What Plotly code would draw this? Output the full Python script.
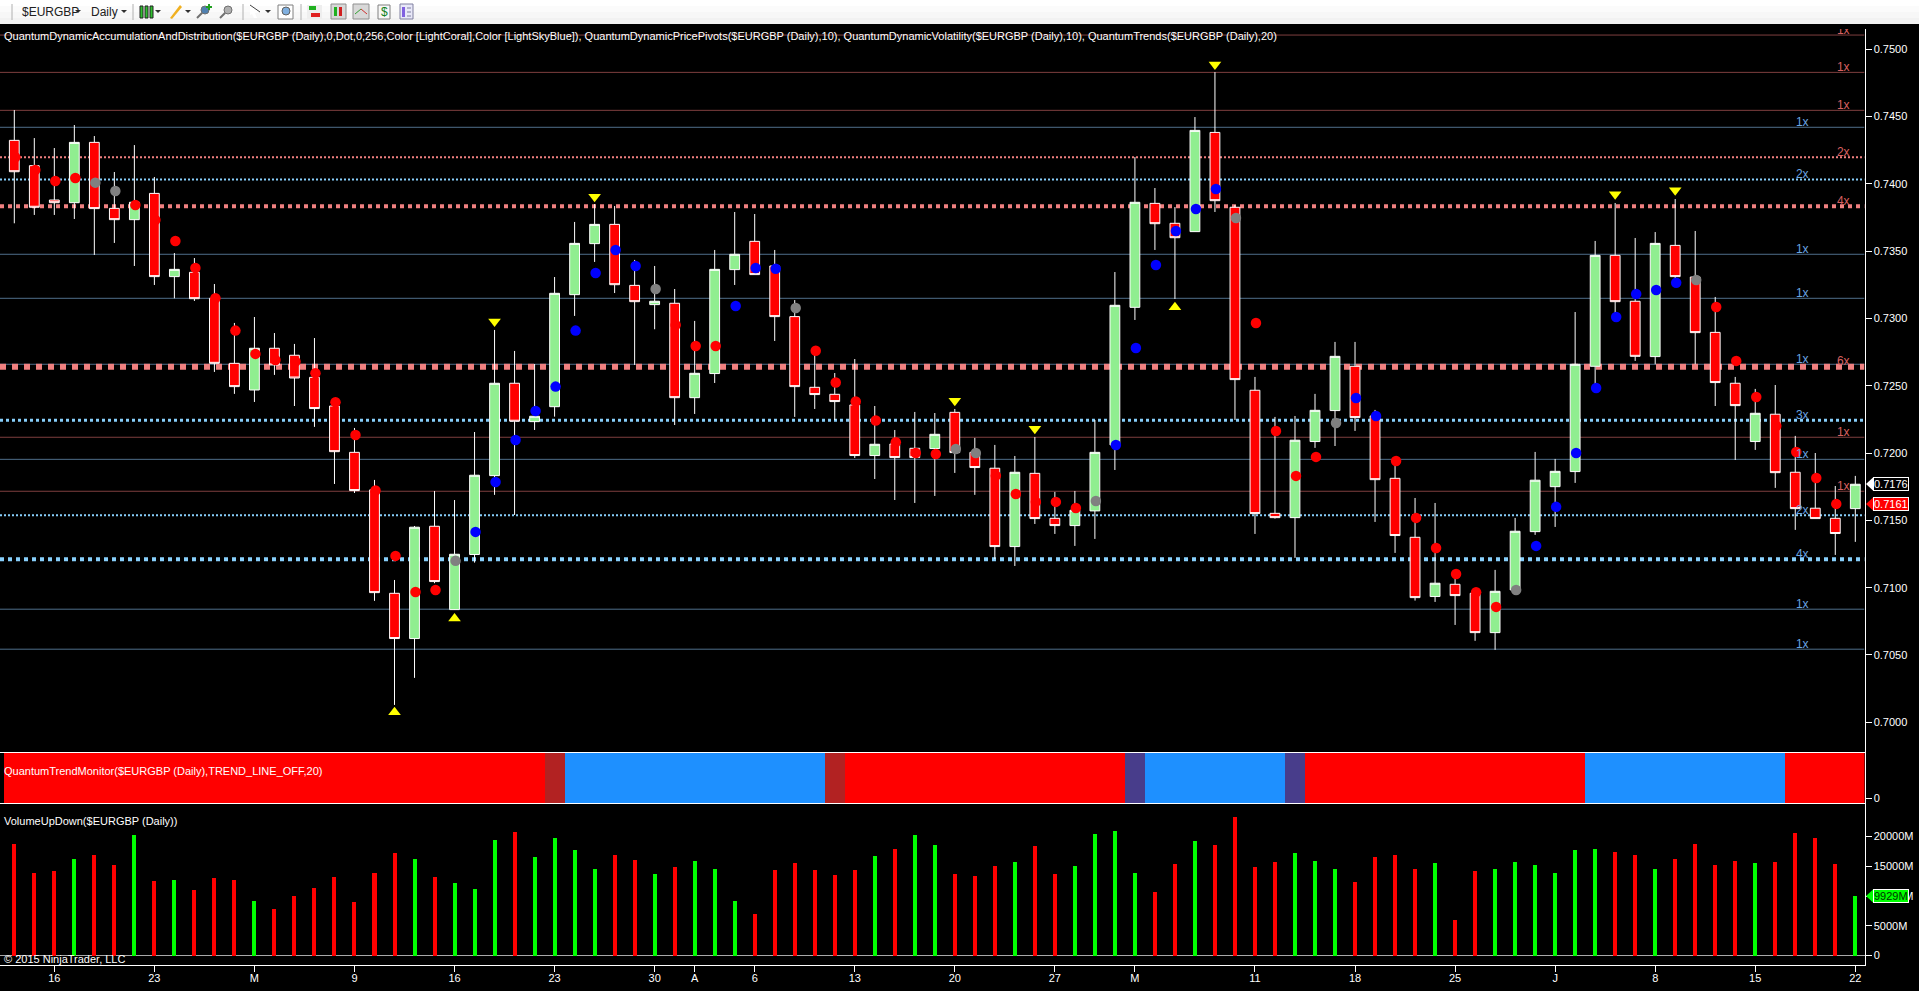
import plotly.graph_objects as go

W, H = 1919, 991

# ---------- data ----------
open_ = [.74322,.74134,.73879,.73859,.74307,.73817,.73733,.73928,.7331,.73342,.73149,.72666,.72468,.72778,.72726,.72562,
.72349,.72005,.71726,.70958,.70622,.71456,.70837,.71246,.71832,.72518,.72233,.72344,.73176,.73555,.73698,.73245,
.73102,.73112,.72411,.7259,.73362,.73572,.73389,.73013,.72488,.72436,.72357,.71981,.72067,.72035,.72033,.72302,
.72005,.71887,.71305,.71849,.71515,.71461,.7157,.7206,.73082,.73854,.73706,.73644,.74381,.73825,.72466,.71552,
.7152,.72085,.72315,.72644,.72275,.71812,.71374,.70934,.71025,.70958,.70666,.70983,.71416,.7175,.71862,.72644,
.73468,.73127,.72716,.73542,.73307,.72896,.72518,.72085,.72288,.71857,.7159,.71515,.71587]
close = [.74089,.73825,.73859,.74307,.73815,.73733,.73862,.7331,.73364,.73146,.72666,.72493,.72778,.72654,.72557,.7233,
.7201,.71721,.70963,.70622,.71449,.71045,.71248,.71835,.72518,.72236,.72273,.73186,.73557,.73698,.7325,.73124,
.73127,.72411,.72592,.73364,.73476,.73325,.73013,.72493,.72434,.72382,.71981,.72065,.71966,.71966,.72139,.72003,
.71892,.71305,.71857,.71513,.71461,.71575,.72005,.73097,.73862,.73703,.73599,.74396,.73874,.72545,.7155,.7152,
.72095,.72317,.72718,.72263,.71802,.71387,.70926,.71033,.70941,.70666,.70973,.71419,.71798,.71864,.72659,.73468,
.73124,.72718,.73557,.7331,.72894,.72523,.72352,.72295,.71854,.71587,.71513,.71402,.71768]
high = [.74547,.74339,.74265,.74436,.74354,.74087,.74287,.7405,.73485,.73448,.73255,.72966,.7301,.72891,.7281,.72854,
.72406,.72186,.718,.71057,.71458,.71718,.71651,.72156,.72914,.72758,.72661,.73307,.73716,.73849,.73834,.73434,
.73389,.73218,.72981,.73508,.7379,.73775,.73508,.73136,.7279,.72594,.72698,.72349,.72171,.72305,.72297,.72327,
.72112,.7206,.71978,.72119,.71711,.71718,.72245,.73344,.74198,.73968,.73827,.74495,.74829,.73842,.72565,.72268,
.72275,.72439,.72825,.72825,.7232,.71941,.71666,.71629,.71102,.70983,.71132,.71518,.72008,.71956,.73047,.73575,
.73857,.73597,.73641,.73886,.73649,.73159,.72565,.72476,.72505,.72127,.72,.71755,.7183]
low = [.73706,.73768,.73768,.73738,.73471,.7356,.73389,.73248,.73149,.73129,.72602,.72439,.72379,.7258,.72349,.72194,
.7177,.71703,.70902,.70129,.7033,.71033,.70835,.71186,.71689,.7154,.72171,.7227,.73018,.73419,.73188,.72654,
.72919,.72208,.7229,.7252,.73248,.73325,.72832,.72268,.72327,.72245,.71963,.71807,.71651,.71629,.71681,.71852,
.71689,.71213,.71161,.71473,.71399,.7131,.71362,.71874,.72988,.73508,.73144,.73644,.7379,.72245,.71399,.71513,
.71221,.72038,.72052,.72164,.71488,.71258,.70904,.70894,.70723,.70605,.70538,.70958,.71392,.71451,.71778,.72483,
.73013,.72684,.72659,.73285,.72659,.72349,.71948,.72023,.71741,.71429,.71513,.71243,.7134]

dot_values = [.74196,.74102,.7402,.74042,.74008,.73946,.73842,.7373,.73575,.73374,.73149,.72909,.72736,.72691,.72679,.72592,
.72377,.72134,.71721,.71236,.70968,.70983,.71199,.71414,.71785,.72097,.72312,.72493,.72909,.73337,.73508,.73389,
.73218,.72951,.72795,.72795,.73092,.73374,.73369,.73077,.7276,.72523,.72382,.72241,.7208,.72,.71993,.7203,
.72,.71832,.71696,.71637,.71637,.71592,.71644,.7206,.7278,.73396,.73649,.73812,.73961,.73745,.72966,.72164,
.7183,.71971,.72223,.72409,.72275,.71941,.71518,.71295,.71102,.70966,.70857,.70983,.7131,.716,.72,.72483,
.7301,.73181,.73211,.73265,.73285,.73084,.72684,.72416,.72201,.72008,.71815,.71622]
dot_kinds = list("rrrr gg rrrrrrrrrrrrrrrr g bbbbbbbbb g rrr bbb g rrrrrrr gg rrrrr g bbbbbb g rrrr g bb rrrrrr g bbbbbbbb g rrrrrrr".replace(" ", ""))

peak_idx = [24, 29, 47, 51, 60, 80, 83]
peak_val = [.72976, .73904, .72389, .72181, .74886, .73921, .73951]
trough_idx = [19, 22, 58]
trough_val = [.70075, .7077, .73082]

level_val = [.75104,.74827,.74545,.74419,.74196,.74032,.73832,.73476,.73149,.72659,.72641,.72243,.72117,.71953,.71716,.71538,.71211,.7084,.70543]
level_mult = [1,1,1,1,2,2,4,1,1,1,6,3,1,1,1,2,4,1,1]
level_side = list("rrrbrbrbbbrbrbrbbbb")

trend_colors = (["#FF0000"]*27 + ["#B22222"] + ["#1E90FF"]*13 + ["#B22222"] + ["#FF0000"]*14 + ["#483D8B"]
                + ["#1E90FF"]*7 + ["#483D8B"] + ["#FF0000"]*14 + ["#1E90FF"]*10 + ["#FF0000"]*4)

volume = [18700,13830,14170,16180,16860,15180,20200,12490,12660,10980,12990,12660,9130,7780,9970,11310,
13160,8960,13830,17190,16180,13160,12150,11140,19380,20720,16520,19710,17700,14500,16860,16020,
13660,14840,15850,14500,9130,6940,14340,15510,14340,13500,14340,16690,17860,20200,18540,13660,
13330,15010,15680,18370,13660,15010,20380,20890,13830,10640,15340,19210,18540,23240,14840,15680,
17190,15850,14500,12320,16520,16860,14500,15510,5940,14170,14500,15680,15180,13830,17700,17860,
17360,16860,14500,16180,18700,15180,15850,15510,15680,20550,19710,15340,9929]
vol_dirs = list("rrrgrrgrgrrrgrrrrrrrgrgggrggggrr"
                "grgggrrrrrrgrggrrrgrrggggrrgrrrr"
                "gggrrrrgrrggggggrrgrrrrgrrrrg")

x_tick_idx = [2,7,12,17,22,27,32,34,37,42,47,52,56,62,67,72,77,82,87,92]
x_tick_txt = ["16","23","M","9","16","23","30","A","6","13","20","27","M","11","18","25","J","8","15","22"]
vol_ticks = [0,5000,10000,15000,20000]
vol_tick_txt = ["0","5000M","10000M","15000M","20000M"]
price_ticks = [.70,.705,.71,.715,.72,.725,.73,.735,.74,.745,.75]

last_close = "0.7176"
last_dot = "0.7161"
last_vol = "9929M"

HEADER = ("QuantumDynamicAccumulationAndDistribution($EURGBP (Daily),0,Dot,0,256,Color [LightCoral],Color [LightSkyBlue]), "
          "QuantumDynamicPricePivots($EURGBP (Daily),10), QuantumDynamicVolatility($EURGBP (Daily),10), "
          "QuantumTrends($EURGBP (Daily),20)")

# ---------- helpers ----------
FONT = "Liberation Sans"
COL = {"r": "#FF0000", "g": "#808080", "b": "#0000FF"}
idx = list(range(len(open_)))
AX_X = 1864.5
px = lambda X: X / W
py = lambda Y: 1 - Y / H
XR = [-0.7146, 92.46]

shapes, annos = [], []

def rect(x0, y0, x1, y1, fill, line=None, lw=0):
    shapes.append(dict(type="rect", xref="paper", yref="paper", x0=px(x0), x1=px(x1), y0=py(y0), y1=py(y1),
                       fillcolor=fill, line=dict(color=line or fill, width=lw)))

def seg(x0, y0, x1, y1, col, lw=1):
    shapes.append(dict(type="line", xref="paper", yref="paper", x0=px(x0), x1=px(x1), y0=py(y0), y1=py(y1),
                       line=dict(color=col, width=lw)))

def poly(pts, fill):
    d = "M" + " L".join(f"{px(a):.5f},{py(b):.5f}" for a, b in pts) + " Z"
    shapes.append(dict(type="path", xref="paper", yref="paper", path=d, fillcolor=fill, line=dict(width=0)))

def label(X, Y, s, size=11, col="#FFFFFF", anchor="left", **kw):
    annos.append(dict(xref="paper", yref="paper", x=px(X), y=py(Y), text=s, showarrow=False, xanchor=anchor,
                      yanchor="middle", font=dict(family=FONT, size=size, color=col), **kw))

# pivot / volatility levels
for v, m, s in zip(level_val, level_mult, level_side):
    if m == 1:
        ln = dict(color="#7F3F3F" if s == "r" else "#4F6E8A", width=1)
    else:
        ln = dict(color="#F08080" if s == "r" else "#87CEFA", width=m, dash=f"{m}px,{m}px")
    shapes.append(dict(type="line", xref="x", yref="y", x0=XR[0], x1=XR[1], y0=v, y1=v, line=ln, layer="below"))

# toolbar
for k, c in enumerate(["#FFFFFF", "#FBFBFB", "#F7F7F7", "#F2F2F2"]):
    rect(0, k * 6, W, (k + 1) * 6, c)
for X in [12, 133, 243, 301]:
    seg(X, 4, X, 20, "#B0B0B0")
for X in [78, 124, 158, 188, 268]:
    poly([(X - 3, 10), (X + 3, 10), (X, 13)], "#303030")
# candle icon
for X, c in [(140, "#30C030"), (145, "#30C030"), (150, "#30C030")]:
    rect(X, 6, X + 3, 18, c, "#202020", 1)
poly([(170, 18), (180, 5), (182, 7), (172, 19)], "#F0B020")
for X, c in [(197, "#5080B0"), (220, "#B0B0B0")]:
    shapes.append(dict(type="circle", xref="paper", yref="paper", x0=px(X + 4), x1=px(X + 12), y0=py(14), y1=py(6),
                       fillcolor=c, line=dict(color="#707070", width=1)))
    seg(X, 18, X + 5, 13, "#707070", 2)
rect(208, 4, 210, 10, "#20A020")
rect(206, 6, 212, 8, "#20A020")
poly([(250, 5), (260, 12), (255, 13), (257, 18), (254, 18), (252, 14), (250, 15)], "#FFFFFF")
seg(250, 5, 260, 12, "#404040")
rect(278, 5, 293, 19, "#FFFFFF", "#808080", 1)
shapes.append(dict(type="circle", xref="paper", yref="paper", x0=px(282), x1=px(290), y0=py(15), y1=py(7),
                   fillcolor="#80B0E0", line=dict(color="#606060", width=1)))
rect(307, 5, 322, 19, "#EEEEEE")
rect(309, 6, 316, 10, "#20B020"); rect(311, 13, 320, 17, "#E02020")
rect(331, 4, 346, 19, "#D8D8D8", "#909090", 1)
rect(334, 7, 337, 16, "#20B020"); rect(339, 7, 342, 16, "#D02020")
rect(353, 4, 369, 19, "#D8D8D8", "#909090", 1)
seg(355, 14, 361, 9, "#30A030"); seg(361, 9, 367, 14, "#D03030")
rect(378, 5, 390, 19, "#F8F8F8", "#808080", 1)
label(384, 12, "$", size=12, col="#108020", anchor="center")
rect(400, 4, 413, 19, "#E8E8F8", "#8080A0", 1)
rect(402, 7, 405, 17, "#8060E0"); seg(407, 8, 411, 8, "#8080A0"); seg(407, 12, 411, 12, "#8080A0"); seg(407, 16, 411, 16, "#8080A0")
label(20, 12, "$EURGBP", size=12, col="#202020")
label(89, 12, "Daily", size=12, col="#202020")

# pane texts
label(2, 36, HEADER, size=11)
label(2, 771, "QuantumTrendMonitor($EURGBP (Daily),TREND_LINE_OFF,20)", size=11)
label(2, 821, "VolumeUpDown($EURGBP (Daily))", size=11)
label(2, 959, "© 2015 NinjaTrader, LLC", size=11)

# last-value tags
def tag(Y, s, bg, fg):
    poly([(1866, Y), (1873, Y - 6.5), (1873, Y + 6.5)], bg if bg != "#000000" else "#FFFFFF")
    annos.append(dict(xref="paper", yref="paper", x=px(1873), y=py(Y), text=s, showarrow=False, xanchor="left",
                      yanchor="middle", bgcolor=bg, bordercolor="#FFFFFF", borderwidth=1, borderpad=0,
                      font=dict(family=FONT, size=11, color=fg)))
tag(484, last_close, "#000000", "#FFFFFF")
tag(504, last_dot, "#FF0000", "#FFFFFF")
tag(896, last_vol, "#00FF00", "#003000")

# ---------- traces ----------
traces = []
traces.append(go.Candlestick(x=idx, open=open_, high=high, low=low, close=close, xaxis="x", yaxis="y",
    whiskerwidth=0,
    increasing=dict(line=dict(color="#FFFFFF", width=1), fillcolor="#90EE90"),
    decreasing=dict(line=dict(color="#FFFFFF", width=1), fillcolor="#FF0000"),
    hoverinfo="skip"))
traces.append(go.Scatter(x=[i + 0.05 for i in range(len(dot_values))], y=dot_values, mode="markers", xaxis="x", yaxis="y",
    marker=dict(size=10.5, color=[COL[k] for k in dot_kinds], line=dict(width=0)), hoverinfo="skip"))
traces.append(go.Scatter(x=peak_idx, y=peak_val, mode="markers", xaxis="x", yaxis="y",
    marker=dict(symbol="triangle-down", size=11, color="#FFFF00", line=dict(width=0)), hoverinfo="skip"))
traces.append(go.Scatter(x=trough_idx, y=trough_val, mode="markers", xaxis="x", yaxis="y",
    marker=dict(symbol="triangle-up", size=11, color="#FFFF00", line=dict(width=0)), hoverinfo="skip"))
for side, xpos, col in [("r", 91.4, "#D86060"), ("b", 89.35, "#6AA5E0")]:
    ys = [v - 0.00012 for v, s in zip(level_val, level_side) if s == side]
    ts = [f"{m}x" for m, s in zip(level_mult, level_side) if s == side]
    traces.append(go.Scatter(x=[xpos] * len(ys), y=ys, text=ts, mode="text", textposition="top center", xaxis="x", yaxis="y",
        textfont=dict(family=FONT, size=12, color=col), hoverinfo="skip"))
traces.append(go.Bar(x=idx, y=[10] * len(idx), base=-1, width=1, xaxis="x2", yaxis="y2",
    marker=dict(color=trend_colors, line=dict(width=0)), hoverinfo="skip"))
traces.append(go.Bar(x=idx, y=volume, width=0.2, xaxis="x3", yaxis="y3",
    marker=dict(color=["#FF0000" if d == "r" else "#00FF00" for d in vol_dirs], line=dict(width=0)), hoverinfo="skip"))

fig = go.Figure(traces)
tickfont = dict(family=FONT, size=11, color="#FFFFFF")
xdom = [0, AX_X / W]
yax = dict(side="right", showgrid=False, zeroline=False, showline=True, linecolor="#FFFFFF", linewidth=1,
           ticks="outside", ticklen=6, tickcolor="#FFFFFF", tickwidth=1, tickfont=tickfont)
xax = dict(domain=xdom, range=XR, showgrid=False, zeroline=False)
fig.update_layout(
    width=W, height=H, margin=dict(l=0, r=0, t=0, b=0), autosize=False,
    paper_bgcolor="#000000", plot_bgcolor="#000000", showlegend=False, hovermode=False,
    barmode="overlay", bargap=0, boxgap=0.3,
    xaxis=dict(**xax, anchor="y", showticklabels=False, ticks="", rangeslider=dict(visible=False), showline=False),
    xaxis2=dict(**xax, anchor="y2", showticklabels=False, ticks="", showline=True, mirror=True, linecolor="#FFFFFF", linewidth=1),
    xaxis3=dict(**xax, anchor="y3", tickmode="array", tickvals=x_tick_idx, ticktext=x_tick_txt, showline=True,
                linecolor="#FFFFFF", linewidth=1, ticks="outside", ticklen=6, tickcolor="#FFFFFF", tickfont=tickfont,
                ticklabelstandoff=-3),
    yaxis=dict(**yax, domain=[py(753), py(29)], anchor="x", range=[.69772, .75149], tickmode="array",
               tickvals=price_ticks, ticktext=[f"{v:.4f}" for v in price_ticks]),
    yaxis2=dict(**yax, domain=[py(803), py(753)], anchor="x2", range=[-1, 9], tickmode="array", tickvals=[0], ticktext=["0"]),
    yaxis3=dict(**{**yax, "zeroline": True, "zerolinecolor": "#A8A8A8", "zerolinewidth": 1},
                domain=[py(965), py(803)], anchor="x3", range=[-1597, 25630], tickmode="array",
                tickvals=vol_ticks, ticktext=vol_tick_txt),
    shapes=shapes, annotations=annos,
)
fig.write_html("out.html", config=dict(displayModeBar=False),
               post_script="document.body.style.margin='0';document.body.style.overflow='hidden';document.body.style.background='#000';")
